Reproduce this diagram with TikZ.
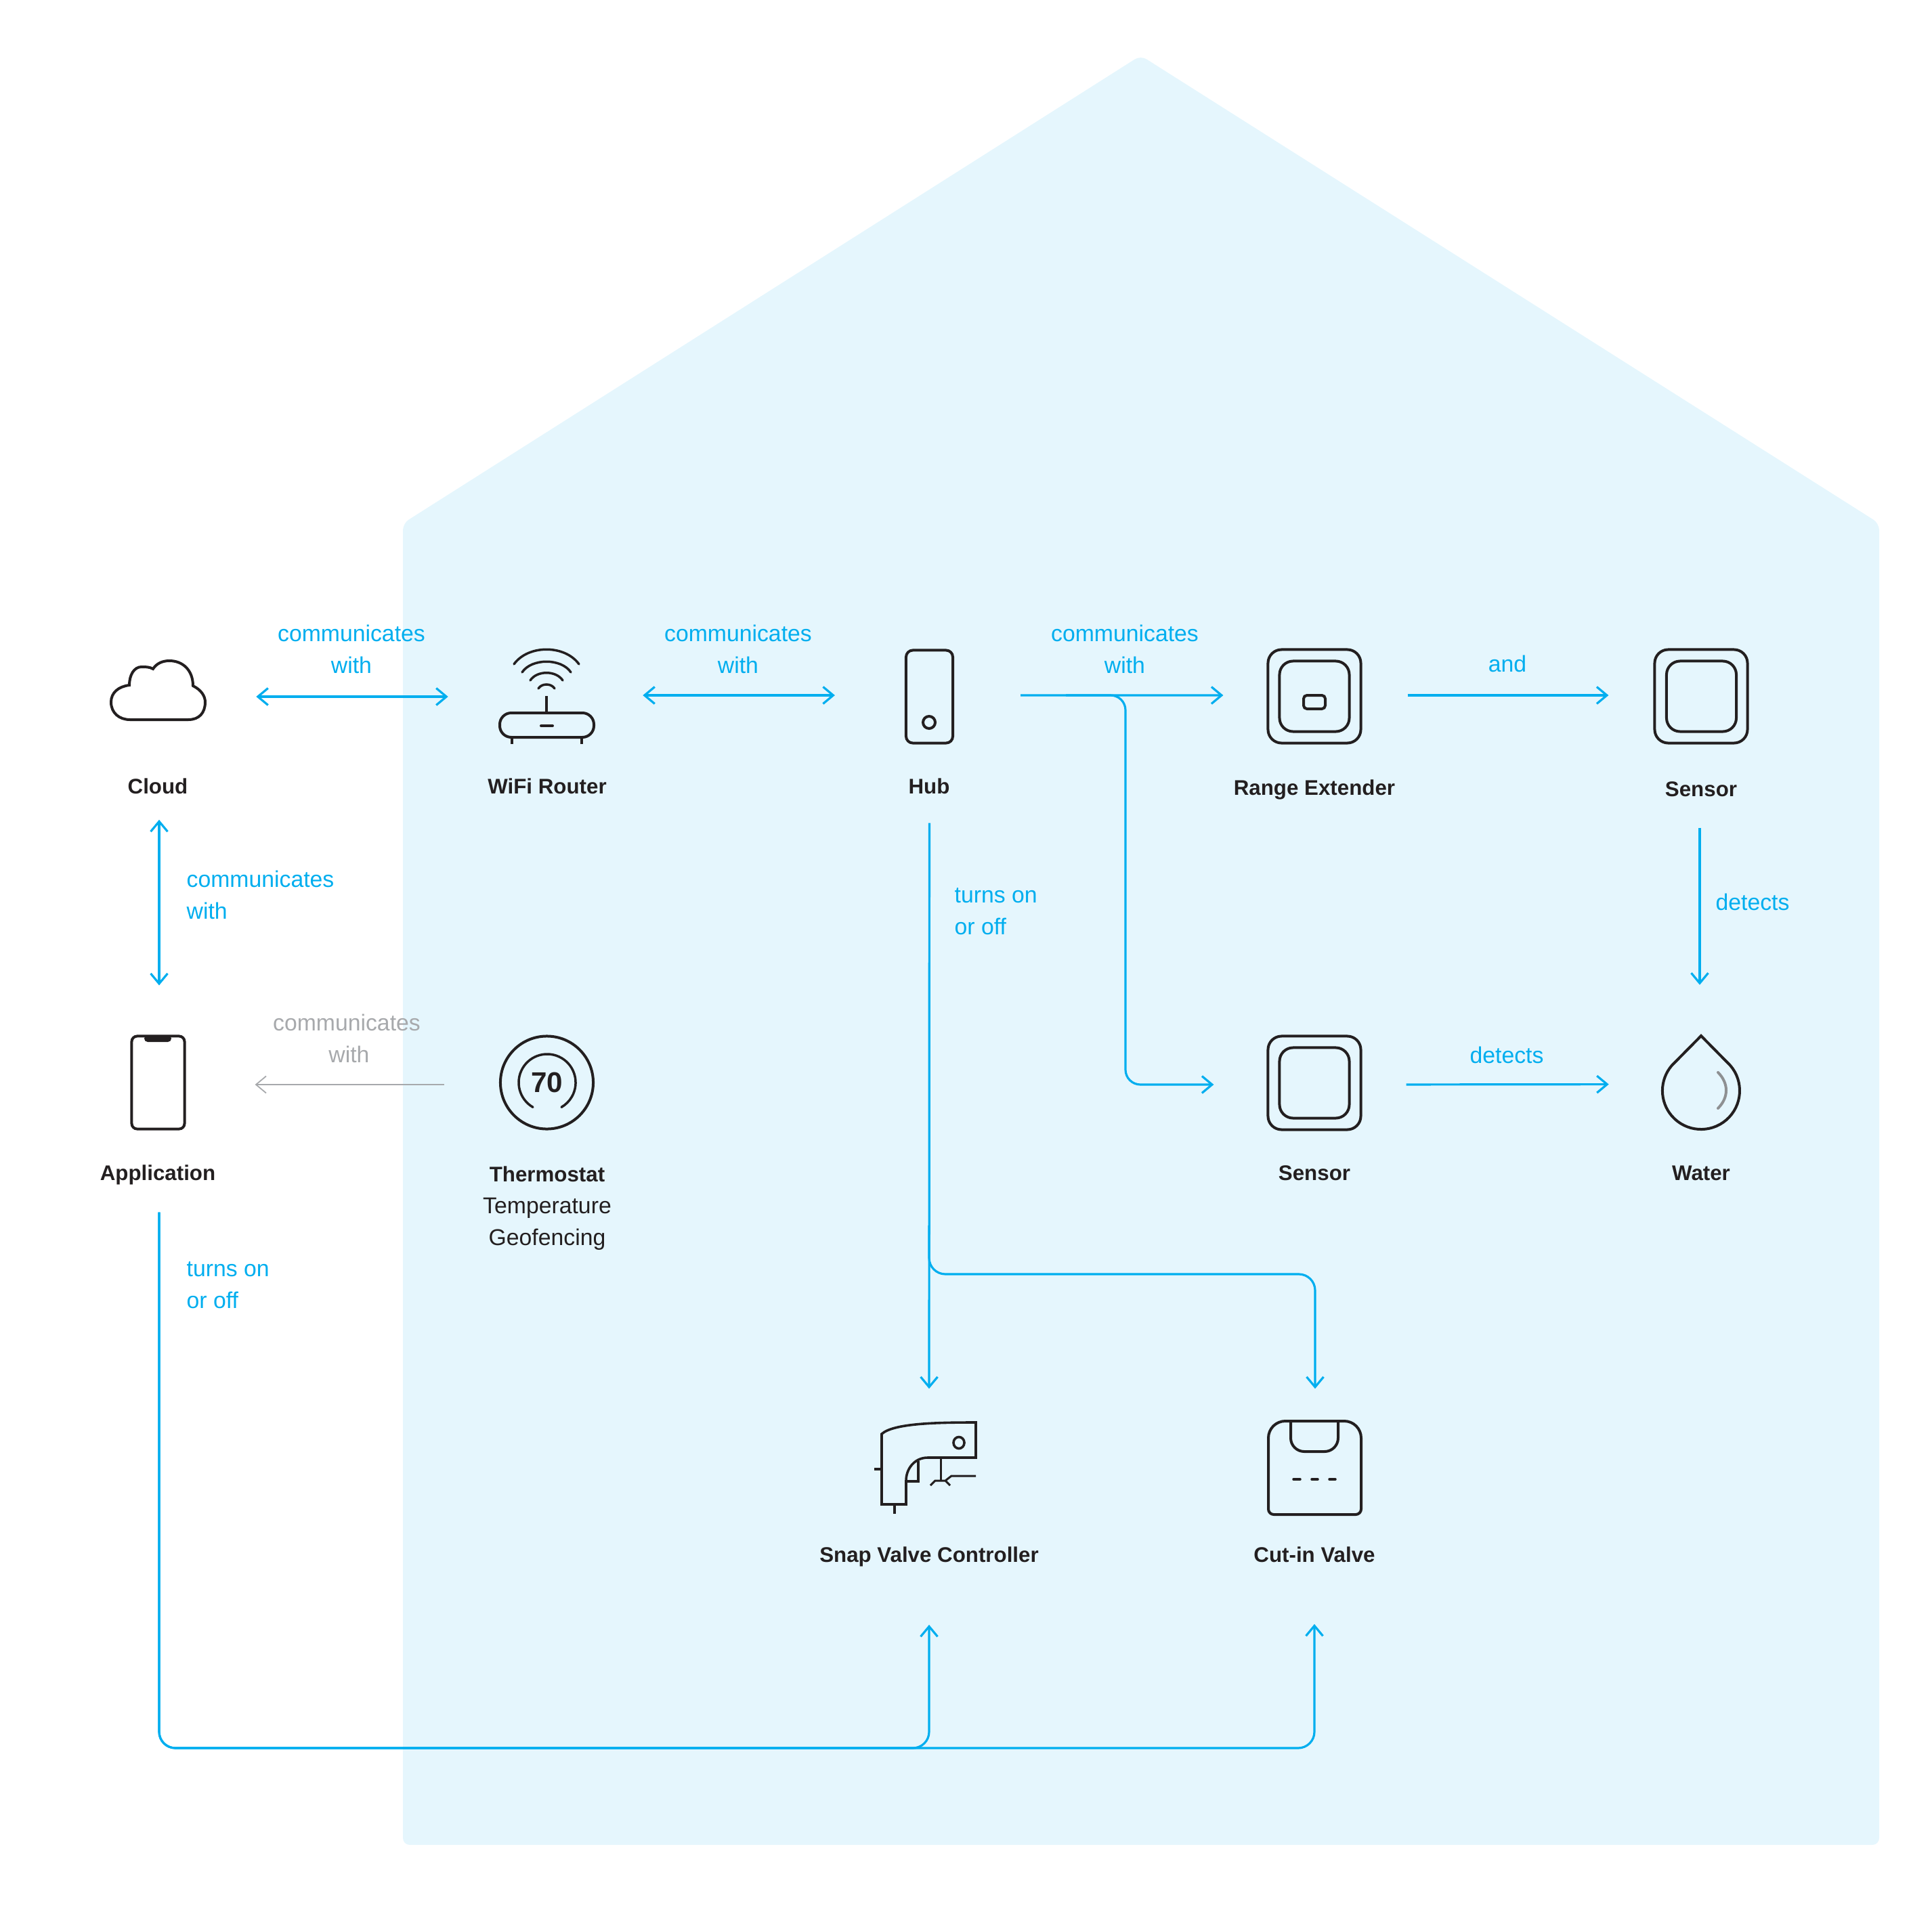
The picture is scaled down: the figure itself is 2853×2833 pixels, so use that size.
\documentclass[tikz,border=0pt]{standalone}
\usepackage{fontspec}
\setmainfont{Liberation Sans}
\usetikzlibrary{arrows.meta}
\definecolor{housefill}{HTML}{E5F6FD}
\definecolor{linkblue}{HTML}{00AEEF}
\definecolor{inkblack}{HTML}{231F20}
\definecolor{quietgray}{HTML}{A7A9AC}
\begin{document}
\begin{tikzpicture}
[x=.01cm,y=-.01cm,
 link/.style={draw=linkblue,line width=.032cm},
 quietlink/.style={draw=quietgray,line width=.018cm},
 barb/.tip={Straight Barb[length=.15cm,width=.25cm]},
 icon/.style={draw=inkblack,line width=.04cm},
 iconbox/.style={icon,rectangle,inner sep=0pt,rounded corners=.2cm},
 iconspot/.style={rectangle,inner sep=0pt},
 namelabel/.style={font=\bfseries\fontsize{8.9}{13.4}\selectfont,text=inkblack,anchor=base,inner sep=0pt},
 linklabel/.style={font=\fontsize{9.6}{13.4}\selectfont,text=linkblue,align=center,anchor=north,inner sep=0pt}]
\useasboundingbox (0,0) rectangle (2853,2833);
\fill[housefill,rounded corners=.1cm] (595,2725) -- (595,773) -- (1684.5,82) -- (2775,773) -- (2775,2725) -- cycle;

% top row
\node [iconspot,minimum width=1.39cm,minimum height=1.3cm] (cloud) at (233.5,1029) {};
\draw [icon] (192,1063) -- (278,1063) .. controls (294,1063) and (303,1053) .. (303,1037)
  .. controls (303,1028) and (297,1019) .. (285,1013) .. controls (285,990) and (270,976) .. (250,976)
  .. controls (240,976) and (231,980) .. (226,988) .. controls (221,985) and (215,985) .. (209,985)
  .. controls (198,985) and (191,997) .. (191,1012) .. controls (175,1014) and (164,1023) .. (164,1037)
  .. controls (164,1053) and (176,1063) .. (192,1063) -- cycle;

\node [iconspot,minimum width=1.39cm,minimum height=1.4cm] (router) at (808,1029) {};
\draw [icon,rounded corners=.17cm] (738,1053) rectangle (877,1089);
\draw [icon] (807,1028) -- (807,1053);
\draw [icon] (756,1089) -- (756,1099) (859,1089) -- (859,1099);
\draw [icon,line cap=round] (799,1072) -- (816,1072);
\draw [icon,line cap=round,line width=.035cm] (759,981) .. controls (780,952) and (834,952) .. (855,981);
\draw [icon,line cap=round,line width=.035cm] (771,993) .. controls (785,972) and (829,972) .. (843,993);
\draw [icon,line cap=round,line width=.035cm] (783,1005) .. controls (793,990) and (821,990) .. (831,1005);
\draw [icon,line cap=round,line width=.035cm] (795,1017) .. controls (800,1009) and (814,1009) .. (819,1017);

\node [iconbox,rounded corners=.1cm,minimum width=.69cm,minimum height=1.37cm] (hub) at (1372.5,1029) {};
\draw [icon] (1372,1067) circle [radius=.09cm];

\node [iconbox,minimum width=1.37cm,minimum height=1.38cm] (rangeext) at (1941,1028.5) {};
\node [iconbox,minimum width=1.03cm,minimum height=1.04cm] (rangeinner) at (1941,1028.5) {};
\node [iconbox,rounded corners=.05cm,minimum width=.32cm,minimum height=.2cm] (rangeled) at (1941,1037) {};

\node [iconbox,minimum width=1.37cm,minimum height=1.38cm] (sensora) at (2512,1028.5) {};
\node [iconbox,minimum width=1.03cm,minimum height=1.04cm] (sensorainner) at (2512.5,1028.5) {};

% middle row
\node [iconbox,rounded corners=.08cm,minimum width=.78cm,minimum height=1.37cm] (phone) at (233.5,1599) {};
\fill [inkblack,rounded corners=.05cm] (213,1529) -- (253,1529) -- (253,1539) -- (213,1539) -- cycle;

\node [icon,circle,inner sep=0pt,minimum size=1.37cm,font=\bfseries\fontsize{12}{12}\selectfont,text=inkblack] (thermostat) at (807.5,1599) {70};
\draw [icon,line cap=round,line width=.035cm] (787,1635.4) arc [start angle=240,end angle=-60,radius=.42cm];

\node [iconbox,minimum width=1.37cm,minimum height=1.38cm] (sensorb) at (1941,1599.5) {};
\node [iconbox,minimum width=1.03cm,minimum height=1.04cm] (sensorbinner) at (1941,1599.5) {};

\node [iconspot,minimum width=1.15cm,minimum height=1.39cm] (water) at (2512,1599) {};
\draw [icon] (2512,1530) -- (2555,1573.6) arc [start angle=41,end angle=-221,radius=.57cm] -- cycle;
\draw [icon,draw=quietgray!85!black,line cap=round] (2537,1584) .. controls (2553,1600) and (2553,1621) .. (2537,1637);

% bottom row
\node [iconspot,minimum width=1.5cm,minimum height=1.35cm] (snapvalve) at (1372,2168.5) {};
\draw [icon,line width=.036cm] (1302,2118) .. controls (1320,2102) and (1385,2101) .. (1441,2101) -- (1441,2153) -- (1370,2153)
  .. controls (1350,2153) and (1338,2170) .. (1338,2187) -- (1338,2222) -- (1302,2222) -- cycle;
\draw [icon,line width=.036cm] (1416,2131) circle [x radius=.08cm,y radius=.085cm];
\draw [icon,line width=.036cm] (1291,2170) -- (1302,2170) (1321,2222) -- (1321,2236);
\draw [icon,line width=.036cm] (1356,2158) -- (1356,2188) -- (1338,2188);
\draw [icon,line width=.03cm] (1389,2153) -- (1389,2187);
\draw [icon,line width=.03cm] (1374,2194) -- (1381,2187) -- (1396,2187) -- (1403,2194) (1396,2187) -- (1405,2180) -- (1441,2180);

\node [iconspot,minimum width=1.38cm,minimum height=1.39cm] (cutinvalve) at (1941,2167.5) {};
\draw [icon] [rounded corners=.25cm] (1873,2170) -- (1873,2099) -- (2010,2099) [rounded corners=.08cm] -- (2010,2237) -- (1873,2237) -- cycle;
\draw [icon,rounded corners=.2cm] (1906,2099) -- (1906,2144) -- (1976,2144) -- (1976,2099);
\draw [icon,line cap=round,line width=.035cm] (1910,2185) -- (1920,2185) (1937,2185) -- (1946,2185) (1963,2185) -- (1972,2185);

% names
\node [namelabel] (lblcloud) at (233,1172) {Cloud};
\node [namelabel] (lblrouter) at (808,1172) {WiFi Router};
\node [namelabel] (lblhub) at (1372,1172) {Hub};
\node [namelabel] (lblrange) at (1941,1174) {Range Extender};
\node [namelabel] (lblsensora) at (2512,1176) {Sensor};
\node [namelabel] (lblapp) at (233,1743) {Application};
\node [namelabel,anchor=north,align=center,font=\fontsize{9.6}{13.4}\selectfont] (lblthermostat) at (808,1722)
  {{\bfseries\fontsize{8.9}{13.4}\selectfont Thermostat}\\Temperature\\Geofencing};
\node [namelabel] (lblsensorb) at (1941,1743) {Sensor};
\node [namelabel] (lblwater) at (2512,1743) {Water};
\node [namelabel] (lblsnap) at (1372,2307) {Snap Valve Controller};
\node [namelabel] (lblcutin) at (1941,2307) {Cut-in Valve};

% link words
\node [linklabel] (wordsa) at (519,922) {communicates\\with};
\node [linklabel] (wordsb) at (1090,922) {communicates\\with};
\node [linklabel] (wordsc) at (1661,922) {communicates\\with};
\node [linklabel,anchor=base] (wordsd) at (2226,992) {and};
\node [linklabel,anchor=base] (wordse) at (2588,1344) {detects};
\node [linklabel,anchor=base] (wordsf) at (2225,1570) {detects};
\node [linklabel,anchor=north west,align=left] (wordsg) at (275,1285) {communicates\\with};
\node [linklabel,anchor=north west,align=left] (wordsh) at (1409,1311) {turns on\\or off};
\node [linklabel,anchor=north west,align=left] (wordsi) at (275,1863) {turns on\\or off};
\node [linklabel,text=quietgray] (wordsj) at (512,1497) {communicates\\\kern.07cm with};

% connectors
\coordinate (hubjoin) at (1574,1027);
\coordinate (hubbend) at (1662,1300);
\coordinate (valvejoin) at (1372,1810);
\coordinate (valvebend) at (1942,1882);
\coordinate (apprail) at (235,2582);
\draw [link,{barb}-{barb},shorten <=.745cm,shorten >=.76cm] (cloud.east) -- (router.west);
\draw [link,{barb}-{barb},shorten <=.71cm,shorten >=1.03cm] ([yshift=.02cm]router.east) -- ([yshift=.02cm]hub.west);
\draw [link,-{barb},shorten <=.98cm,shorten >=.64cm] ([yshift=.02cm]hub.east) -- ([yshift=.015cm]rangeext.west);
\draw [link,-{barb},shorten <=.67cm,shorten >=.66cm] ([yshift=.015cm]rangeext.east) -- ([yshift=.015cm]sensora.west);
\draw [link,-{barb},rounded corners=.22cm,shorten >=.78cm] (hubjoin) -| (hubbend) |- ([yshift=-.025cm]sensorb.west);
\draw [link,-{barb},shorten <=.65cm,shorten >=.78cm] ([yshift=-.025cm]sensorb.east) -- ([yshift=-.025cm]water.west);
\draw [link,-{barb},shorten <=1.23cm,shorten >=.74cm] ([xshift=-.02cm]sensora.south) -- ([xshift=-.02cm]water.north);
\draw [link,{barb}-{barb},shorten <=1.16cm,shorten >=.73cm] ([xshift=.015cm]cloud.south) -- ([xshift=.015cm]phone.north);
\draw [quietlink,-{barb},shorten <=.81cm,shorten >=1.02cm] ([yshift=-.03cm]thermostat.west) -- ([yshift=-.03cm]phone.east);
\draw [link,-{barb},shorten <=1.16cm,shorten >=.49cm] (hub.south) -- (snapvalve.north);
\draw [link,-{barb},rounded corners=.24cm,shorten >=.46cm] (valvejoin) |- (valvebend) -- ([xshift=.01cm]cutinvalve.north);
\draw [link,-{barb},rounded corners=.24cm,shorten <=1.21cm,shorten >=1.63cm] ([xshift=.015cm]phone.south) -- (apprail) -| (snapvalve.south);
\draw [link,-{barb},rounded corners=.24cm,shorten <=1.21cm,shorten >=1.61cm] ([xshift=.015cm]phone.south) -- (apprail) -| (cutinvalve.south);
\end{tikzpicture}
\end{document}
